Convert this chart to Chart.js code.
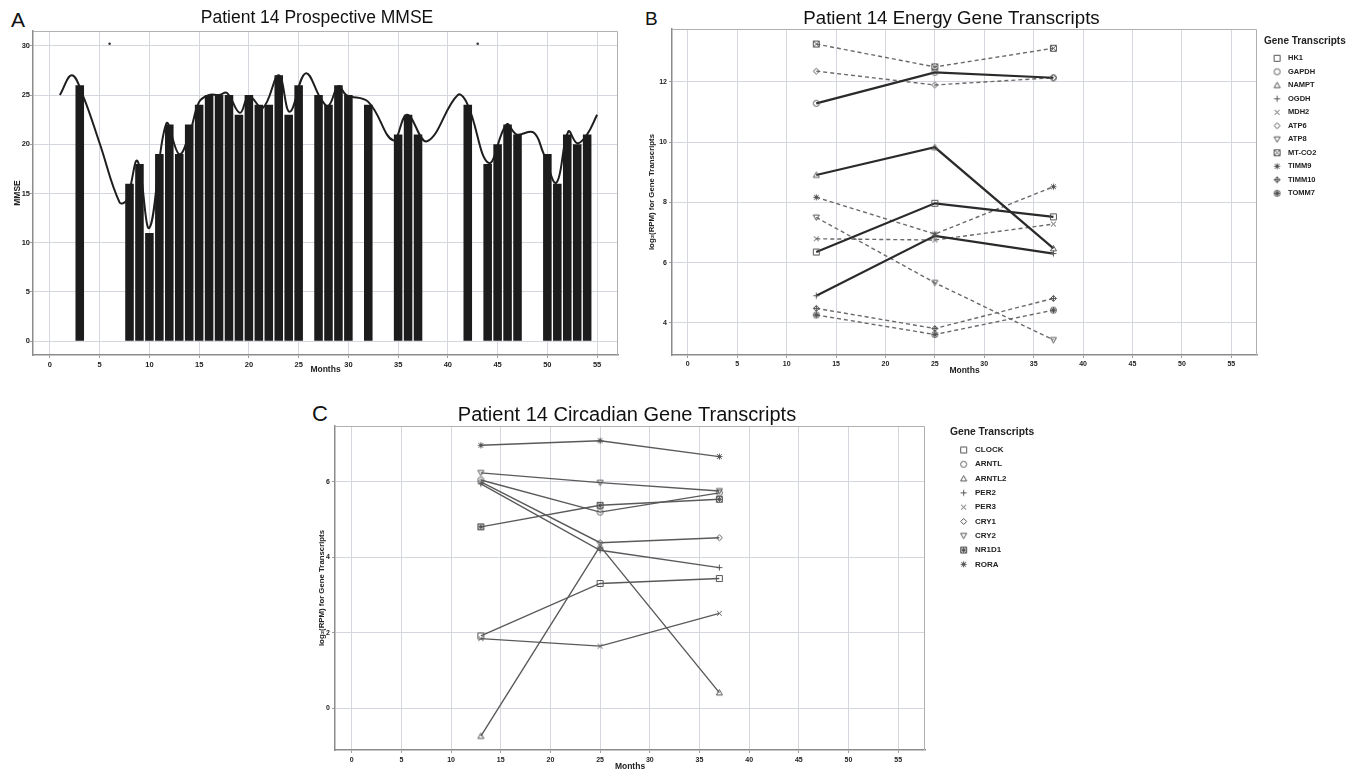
<!DOCTYPE html>
<html>
<head>
<meta charset="utf-8">
<title>Patient 14</title>
<script src="https://cdn.jsdelivr.net/npm/chart.js@4.4.1/dist/chart.umd.min.js"></script>
<style>
  body { margin: 0; background: #fff; }
  #page { position: relative; width: 1369px; height: 775px; overflow: hidden; font-family: 'Liberation Sans', Arial, sans-serif; }
  #page canvas { position: absolute; }
  .tag { position: absolute; line-height: 1; color: #111; }
</style>
</head>
<body>
<div id="page">
  <div class="tag" style="left:11px; top:9px; font-size:21px;">A</div>
  <div class="tag" style="left:645px; top:9px; font-size:19px;">B</div>
  <div class="tag" style="left:312px; top:403px; font-size:22px;">C</div>
  <canvas id="mmseChart" width="630" height="380" style="left:0; top:0;"></canvas>
  <canvas id="energyChart" width="739" height="380" style="left:630px; top:0;"></canvas>
  <canvas id="circadianChart" width="800" height="385" style="left:300px; top:390px;"></canvas>
</div>
<script>
// A - MMSE score per visit month, plus the smoothed trend drawn over it
const mmseMonths = [3, 8, 9, 10, 11, 12, 13, 14, 15, 16, 17, 18, 19, 20, 21, 22, 23, 24, 25, 27, 28, 29, 30, 32, 35, 36, 37, 42, 44, 45, 46, 47, 50, 51, 52, 53, 54];
const mmseScores = [26, 16, 18, 11, 19, 22, 19, 22, 24, 25, 25, 25, 23, 25, 24, 24, 27, 23, 26, 25, 24, 26, 25, 24, 21, 23, 21, 24, 18, 20, 22, 21, 19, 16, 21, 20, 21];
const trendMonths = [1, 2.2, 3.3, 5, 7, 7.7, 8.8, 10, 11.7, 13, 14.1, 15, 16, 17, 17.8, 19.1, 20, 21.4, 23, 24.1, 25.7, 27.3, 28, 29, 29.8, 32, 34.5, 35.9, 37.9, 41, 42, 44.1, 45.9, 46.9, 48.6, 49.6, 50.9, 52.1, 53, 54, 55];
const trendScores = [25, 27, 25, 20.1, 14.1, 14.3, 18.3, 11.5, 22.1, 19, 21.3, 24.3, 25, 25, 25.2, 23.2, 24.9, 23.7, 27, 23.3, 27.2, 24.5, 23.9, 25.9, 25, 24.3, 20.4, 23, 20.3, 25, 24, 18.1, 22, 21, 21.2, 19.1, 16.1, 21.3, 20.1, 21, 23];
const flagMonths = [6, 43];
const flagScores = [30.2, 30.2];

// B and C - transcript levels (log2 RPM) at the three sampling months
const sampleMonths = [13, 25, 37];
const energyGenes = ['HK1', 'GAPDH', 'NAMPT', 'OGDH', 'MDH2', 'ATP6', 'ATP8', 'MT-CO2', 'TIMM9', 'TIMM10', 'TOMM7'];
const energyLevels = [
  [6.35, 7.97, 7.52],
  [11.29, 12.32, 12.14],
  [8.91, 9.83, 6.47],
  [4.9, 6.89, 6.3],
  [6.79, 6.75, 7.28],
  [12.36, 11.9, 12.14],
  [7.5, 5.33, 3.43],
  [13.26, 12.5, 13.12],
  [8.17, 6.95, 8.52],
  [4.48, 3.81, 4.81],
  [4.26, 3.61, 4.42]
];
const circadianGenes = ['CLOCK', 'ARNTL', 'ARNTL2', 'PER2', 'PER3', 'CRY1', 'CRY2', 'NR1D1', 'RORA'];
const circadianLevels = [
  [1.92, 3.31, 3.44],
  [6.05, 5.2, 5.71],
  [-0.73, 4.3, 0.42],
  [5.95, 4.19, 3.73],
  [1.85, 1.65, 2.52],
  [6.0, 4.39, 4.52],
  [6.24, 5.98, 5.76],
  [4.81, 5.38, 5.54],
  [6.97, 7.09, 6.67]
];

const FONT = "'Liberation Sans', Arial, sans-serif";
const INK = '#222';
const GRID = '#d4d7dd';
const AXIS = '#8c8c8c';

const energyMarks = ['square', 'circle', 'triangle', 'plus', 'cross', 'diamond', 'triangleDown', 'square cross', 'plus cross', 'diamond plus', 'circle plus cross'];
const circadianMarks = ['square', 'circle', 'triangle', 'plus', 'cross', 'diamond', 'triangleDown', 'square plus cross', 'plus cross'];

const strokes = {
  square: (g, c, r) => g.rect(c - r, c - r, 2 * r, 2 * r),
  circle: (g, c, r) => { g.moveTo(c + r, c); g.arc(c, c, r, 0, Math.PI * 2); },
  triangle: (g, c, r) => { g.moveTo(c, c - r); g.lineTo(c + r, c + r * 0.8); g.lineTo(c - r, c + r * 0.8); g.closePath(); },
  triangleDown: (g, c, r) => { g.moveTo(c, c + r); g.lineTo(c + r, c - r * 0.8); g.lineTo(c - r, c - r * 0.8); g.closePath(); },
  plus: (g, c, r) => { g.moveTo(c - r, c); g.lineTo(c + r, c); g.moveTo(c, c - r); g.lineTo(c, c + r); },
  cross: (g, c, r) => { const d = r * 0.8; g.moveTo(c - d, c - d); g.lineTo(c + d, c + d); g.moveTo(c + d, c - d); g.lineTo(c - d, c + d); },
  diamond: (g, c, r) => { g.moveTo(c, c - r); g.lineTo(c + r, c); g.lineTo(c, c + r); g.lineTo(c - r, c); g.closePath(); }
};

// small canvas used as pointStyle, so chart and legend share the same glyph
function marker(shape, color) {
  const cv = document.createElement('canvas');
  cv.width = cv.height = 9;
  const g = cv.getContext('2d');
  g.strokeStyle = color;
  g.lineWidth = 1;
  g.beginPath();
  shape.split(' ').forEach(part => strokes[part](g, 4.5, 3));
  g.stroke();
  return cv;
}

const points = (xs, ys) => xs.map((x, i) => ({ x, y: ys[i] }));

// top and right edges of the panel box
const panelFrame = {
  id: 'panelFrame',
  beforeDatasetsDraw(chart) {
    const { ctx, chartArea: a } = chart;
    ctx.save();
    ctx.strokeStyle = '#b0b0b0';
    ctx.lineWidth = 1;
    ctx.beginPath();
    ctx.moveTo(a.left, a.top + 0.5);
    ctx.lineTo(a.right - 0.5, a.top + 0.5);
    ctx.lineTo(a.right - 0.5, a.bottom);
    ctx.stroke();
    ctx.restore();
  }
};

// the legend sits a little away from the plot, and gets room for its labels
const legendNudge = {
  id: 'legendNudge',
  afterLayout(chart, args, opts) {
    const lg = chart.legend;
    if (!lg || !opts.dx) return;
    lg.left += opts.dx;
    lg.width = opts.width;
    lg.right = lg.left + opts.width;
  }
};

function axis({ min, max, step, title, titleSize = 8.5, titlePad, size, horizontal, tickSize = 7, tickPad = 2 }) {
  return {
    type: 'linear',
    min, max,
    offset: false,
    ticks: {
      stepSize: step, includeBounds: false, autoSkip: false, maxRotation: 0,
      color: INK, padding: tickPad,
      font: { family: FONT, size: tickSize, weight: 'bold' }
    },
    grid: { color: GRID, tickLength: 3, tickColor: '#a0a0a0', offset: false },
    border: { color: AXIS, width: 1.5 },
    title: {
      display: true, text: title, color: INK, padding: titlePad,
      font: { family: FONT, size: titleSize, weight: 'bold' }
    },
    afterFit: horizontal ? s => { s.height = size; } : s => { s.width = size; }
  };
}

function chartTitle(text, size, top, bottom) {
  return {
    display: true, text, color: '#111',
    font: { family: FONT, size, weight: 'normal', lineHeight: 1 },
    padding: { top, bottom }
  };
}

function geneLegend(titleSize, titlePad, labelSize, gap, boxW, maxWidth) {
  return {
    display: true,
    position: 'right',
    align: 'start',
    fullSize: false,
    maxWidth,
    title: {
      display: true, text: 'Gene Transcripts', position: 'start', color: INK,
      font: { family: FONT, size: titleSize, weight: 'bold' },
      padding: titlePad
    },
    labels: {
      usePointStyle: true, pointStyleWidth: boxW, boxHeight: labelSize,
      padding: gap, color: INK,
      font: { family: FONT, size: labelSize, weight: 'bold' }
    }
  };
}

new Chart(document.getElementById('mmseChart'), {
  type: 'bar',
  data: {
    datasets: [
      { type: 'scatter', data: points(flagMonths, flagScores), pointRadius: 1.3, backgroundColor: '#333', borderWidth: 0, order: 0 },
      { type: 'line', data: points(trendMonths, trendScores), borderColor: '#1e1e1e', borderWidth: 2, pointRadius: 0, tension: 0.4, order: 1 },
      { type: 'bar', data: points(mmseMonths, mmseScores), backgroundColor: '#1c1c1c', borderWidth: 0, barPercentage: 0.86, categoryPercentage: 1, order: 2 }
    ]
  },
  options: {
    responsive: false,
    animation: false,
    layout: { padding: { left: 16, right: 12, top: 0, bottom: 0 } },
    plugins: {
      title: chartTitle('Patient 14 Prospective MMSE', 17.5, 9.25, 4.25),
      legend: { display: false },
      tooltip: { enabled: false }
    },
    scales: {
      x: axis({ min: -1.7, max: 57.1, step: 5, title: 'Months', titlePad: { top: 0, bottom: 4.9 }, size: 25, horizontal: true, tickSize: 7.5 }),
      y: axis({ min: -1.4, max: 31.5, step: 5, title: 'MMSE', titlePad: { top: -3.1, bottom: 0 }, size: 17, tickSize: 7.5, tickPad: 0 })
    }
  },
  plugins: [panelFrame]
});

new Chart(document.getElementById('energyChart'), {
  type: 'line',
  data: {
    datasets: energyGenes.map((gene, i) => ({
      label: gene,
      data: points(sampleMonths, energyLevels[i]),
      borderColor: i < 4 ? '#2a2a2a' : '#6a6a6a',
      borderWidth: i < 4 ? 2.2 : 1.4,
      borderDash: i < 4 ? [] : [4, 3],
      pointStyle: marker(energyMarks[i], '#555'),
      pointRadius: 4,
      tension: 0
    }))
  },
  options: {
    responsive: false,
    animation: false,
    layout: { padding: { left: 0, right: 96, top: 0, bottom: 0 } },
    plugins: {
      title: chartTitle('Patient 14 Energy Gene Transcripts', 18.7, 9.65, 0.65),
      legend: geneLegend(10, { top: 7, bottom: 0.55 }, 7.5, 6, 14.25, 16),
      legendNudge: { dx: 7, width: 100 },
      tooltip: { enabled: false }
    },
    scales: {
      x: axis({ min: -1.6, max: 57.6, step: 5, title: 'Months', titlePad: { top: 0, bottom: 3.9 }, size: 25, horizontal: true }),
      y: axis({ min: 2.93, max: 13.76, step: 2, title: 'log₂(RPM) for Gene Transcripts', titleSize: 7.8, titlePad: { top: 16.8, bottom: 0 }, size: 42 })
    }
  },
  plugins: [panelFrame, legendNudge]
});

new Chart(document.getElementById('circadianChart'), {
  type: 'line',
  data: {
    datasets: circadianGenes.map((gene, i) => ({
      label: gene,
      data: points(sampleMonths, circadianLevels[i]),
      borderColor: '#5a5a5a',
      borderWidth: 1.4,
      pointStyle: marker(circadianMarks[i], '#555'),
      pointRadius: 4,
      tension: 0
    }))
  },
  options: {
    responsive: false,
    animation: false,
    layout: { padding: { left: 0, right: 146, top: 0, bottom: 0 } },
    plugins: {
      title: chartTitle('Patient 14 Circadian Gene Transcripts', 20, 15, 1),
      legend: geneLegend(10.3, { top: 1, bottom: 0.34 }, 8, 6.29, 14.7, 29),
      legendNudge: { dx: 25, width: 120 },
      tooltip: { enabled: false }
    },
    scales: {
      x: axis({ min: -1.68, max: 57.7, step: 5, title: 'Months', titlePad: { top: 0, bottom: 3.2 }, size: 25, horizontal: true, tickPad: 3 }),
      y: axis({ min: -1.1, max: 7.48, step: 2, title: 'log₂(RPM) for Gene Transcripts', titleSize: 7.8, titlePad: { top: 16.8, bottom: 0 }, size: 35 })
    }
  },
  plugins: [panelFrame, legendNudge]
});
</script>
</body>
</html>
